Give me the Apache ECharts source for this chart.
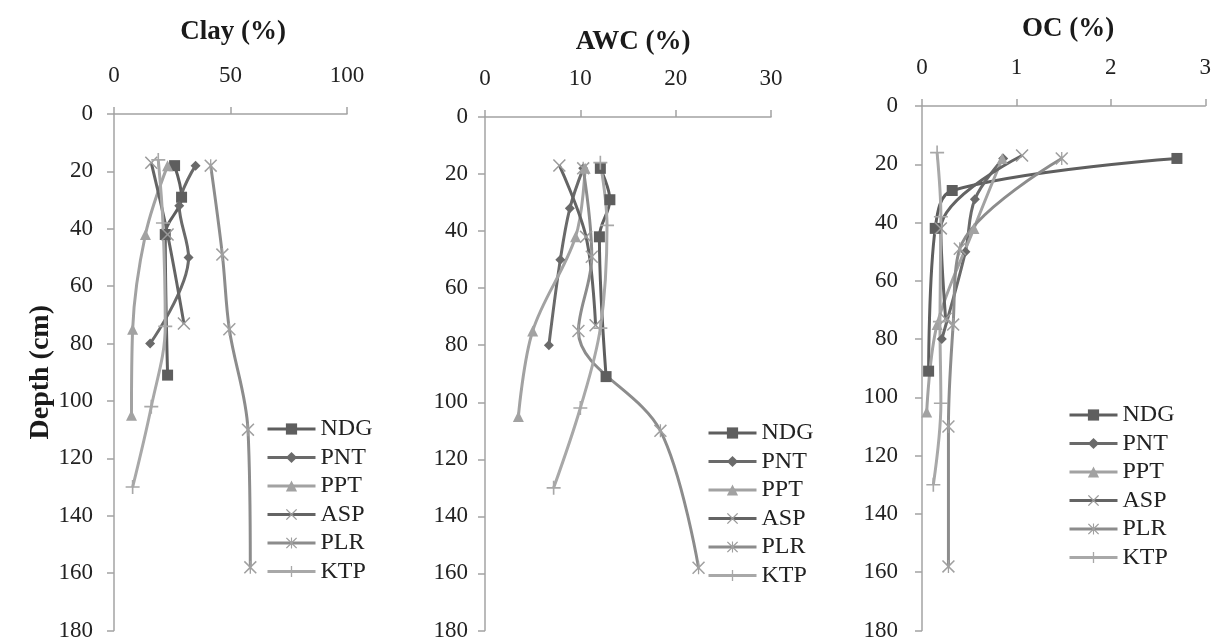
<!DOCTYPE html>
<html>
<head>
<meta charset="utf-8">
<script src="https://cdn.jsdelivr.net/npm/echarts@6/dist/echarts.min.js"></script>
<style>
  html, body { margin: 0; padding: 0; background: #fff; }
  #chart { width: 1214px; height: 642px; }
</style>
</head>
<body>
<div id="chart"></div>
<script>
// sampling sites and their depths (cm)
const sites = ['NDG', 'PNT', 'PPT', 'ASP', 'PLR', 'KTP'];
const depthNDG = [18, 29, 42, 91];
const depthPNT = [18, 32, 50, 80];
const depthPPT = [18, 42, 75, 105];
const depthASP = [17, 42, 73];
const depthPLR = [18, 49, 75, 110, 158];
const depthKTP = [16, 38, 74, 102, 130];

// Clay (%)
const clayNDG = [26, 29, 22, 23];
const clayPNT = [35, 28, 32, 15.5];
const clayPPT = [23, 13.5, 8, 7.5];
const clayASP = [16, 23, 30];
const clayPLR = [41.5, 46.5, 49.5, 57.5, 58.5];
const clayKTP = [19, 21, 22, 16, 8];

// AWC (%)
const awcNDG = [12.1, 13.1, 12, 12.7];
const awcPNT = [10.3, 8.9, 7.9, 6.7];
const awcPPT = [10.5, 9.5, 5, 3.5];
const awcASP = [7.8, 10.6, 11.6];
const awcPLR = [10.3, 11.2, 9.8, 18.4, 22.4];
const awcKTP = [12.1, 12.8, 12.1, 10, 7.2];

// OC (%)
const ocNDG = [2.7, 0.32, 0.14, 0.07];
const ocPNT = [0.86, 0.56, 0.46, 0.21];
const ocPPT = [0.85, 0.55, 0.16, 0.05];
const ocASP = [1.06, 0.2, 0.25];
const ocPLR = [1.48, 0.4, 0.33, 0.28, 0.28];
const ocKTP = [0.16, 0.2, 0.19, 0.2, 0.12];

const titles = ['Clay (%)', 'AWC (%)', 'OC (%)'];
const xMax = [100, 30, 3];
const xStep = [50, 10, 1];
const depthTicks = [0, 180, 20]; // min, max, interval

const depths = [depthNDG, depthPNT, depthPPT, depthASP, depthPLR, depthKTP];
const values = [
  [clayNDG, clayPNT, clayPPT, clayASP, clayPLR, clayKTP],
  [awcNDG, awcPNT, awcPPT, awcASP, awcPLR, awcKTP],
  [ocNDG, ocPNT, ocPPT, ocASP, ocPLR, ocKTP],
];

const colors = ['#5e5e5e', '#6a6a6a', '#a2a2a2', '#646464', '#8c8c8c', '#a8a8a8'];
const markColors = ['#5e5e5e', '#6a6a6a', '#a2a2a2', '#9a9a9a', '#a0a0a0', '#a8a8a8'];
const xMark = 'path://M1,0L6,5L11,0L12,1L7,6L12,11L11,12L6,7L1,12L0,11L5,6L0,1Z';
const plusMark = 'path://M5.3,0H6.7V5.3H12V6.7H6.7V12H5.3V6.7H0V5.3H5.3Z';
const starMark = 'path://M1,0L6,5L11,0L12,1L7,6L12,11L11,12L6,7L1,12L0,11L5,6L0,1Z M5.4,0H6.6V12H5.4Z';
const symbols = ['rect', 'diamond', 'triangle', xMark, starMark, plusMark];
const symbolSizes = [11, 10, 11, 13, 13, 14];

const font = 'Liberation Serif';
const grids = [
  { left: 114, top: 114, width: 233, height: 519 },
  { left: 485, top: 117, width: 286, height: 519 },
  { left: 922, top: 106, width: 285, height: 527 },
];
const yLabelGap = [21, 17, 24];
const titlePos = [[228, 14], [628, 24], [1063, 11]];
const legendPos = [[266, 417], [707, 421], [1068, 403]];

const axisLine = { show: true, lineStyle: { color: '#a3a3a3', width: 1.5 } };

let option = {
  animation: false,
  title: titles.map((t, i) => ({
    text: t,
    left: titlePos[i][0],
    top: titlePos[i][1],
    textAlign: 'center',
    textStyle: { fontFamily: font, fontSize: 27, fontWeight: 'bold', color: '#1a1a1a' },
  })),
  legend: legendPos.map((p) => ({
    data: sites,
    orient: 'vertical',
    left: p[0],
    top: p[1],
    itemWidth: 48,
    itemHeight: 14,
    itemGap: 4.5,
    padding: 0,
    lineStyle: { width: 3 },
    textStyle: { fontFamily: font, fontSize: 24, color: '#222', lineHeight: 24 },
  })),
  grid: grids,
  xAxis: grids.map((g, i) => ({
    type: 'value',
    gridIndex: i,
    position: 'top',
    min: 0,
    max: xMax[i],
    interval: xStep[i],
    axisLine: axisLine,
    axisTick: { show: true, length: 7, lineStyle: { color: '#a3a3a3', width: 1.5 } },
    axisLabel: { fontFamily: font, fontSize: 23, color: '#222', margin: 27 },
    splitLine: { show: false },
  })),
  yAxis: grids.map((g, i) => ({
    type: 'value',
    gridIndex: i,
    inverse: true,
    min: depthTicks[0],
    max: depthTicks[1],
    interval: depthTicks[2],
    name: i === 0 ? 'Depth (cm)' : '',
    nameLocation: 'middle',
    nameRotate: 90,
    nameGap: 56,
    nameTextStyle: { fontFamily: font, fontSize: 28, fontWeight: 'bold', color: '#1a1a1a' },
    axisLine: axisLine,
    axisTick: { show: true, length: 7, lineStyle: { color: '#a3a3a3', width: 1.5 } },
    axisLabel: { fontFamily: font, fontSize: 23, color: '#222', margin: yLabelGap[i] },
    splitLine: { show: false },
  })),
  series: [],
};

values.forEach((panel, p) => {
  panel.forEach((vals, s) => {
    option.series.push({
      name: sites[s],
      type: 'line',
      xAxisIndex: p,
      yAxisIndex: p,
      smooth: 0.35,
      symbol: symbols[s],
      symbolSize: symbolSizes[s],
      showAllSymbol: true,
      lineStyle: { color: colors[s], width: 3 },
      itemStyle: { color: markColors[s] },
      data: depths[s].map((d, k) => [vals[k], d]),
    });
  });
});

const chart = echarts.init(document.getElementById('chart'));
chart.setOption(option);
</script>
</body>
</html>
